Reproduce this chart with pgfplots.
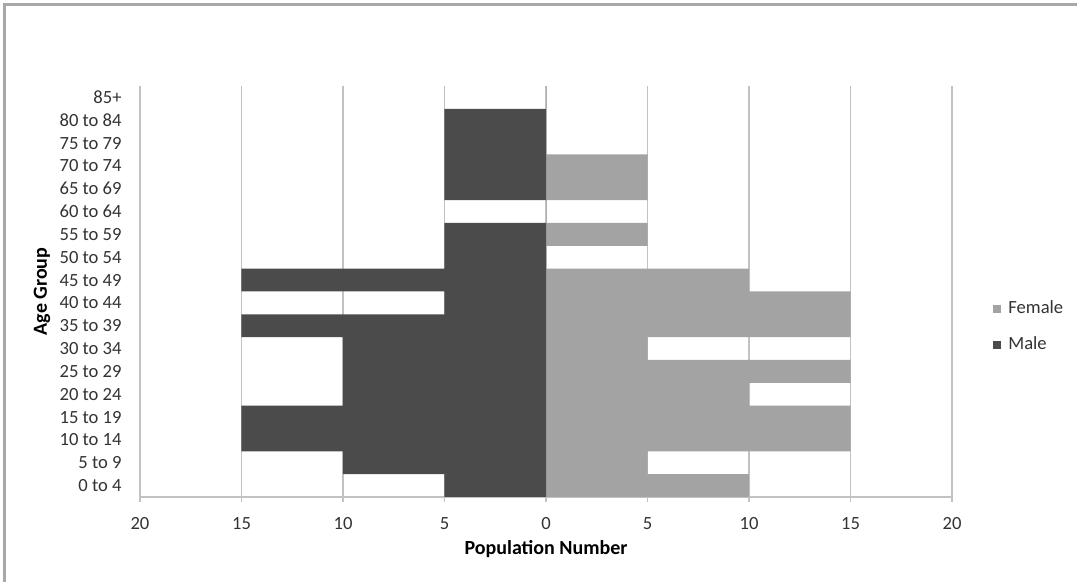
\documentclass[border=0pt]{standalone}
\usepackage{fontspec}
\setmainfont{Carlito}
\usepackage{pgfplots}
\pgfplotsset{compat=1.18}
\definecolor{male}{HTML}{4B4B4B}
\definecolor{female}{HTML}{A3A3A3}
\definecolor{gridc}{HTML}{C2C2C2}
\definecolor{txt}{HTML}{333333}
\definecolor{framec}{HTML}{A8A8A8}
\begin{document}
\begin{tikzpicture}
\useasboundingbox (-70pt,-42.5pt) rectangle (468.5pt,248.5pt);
\fill[white] (-70pt,-42.5pt) rectangle (468.5pt,248.5pt);
\draw[color=framec, line width=1.5pt] (-67.5pt,-42.5pt) -- (-67.5pt,246pt) -- (468.5pt,246pt);
\begin{axis}[
  at={(0pt,0pt)}, anchor=south west,
  scale only axis, width=406pt, height=205.5pt,
  xbar, bar width=1, bar shift=0pt,
  xmin=-20, xmax=20, ymin=-0.5, ymax=17.5,
  xtick={-20,-15,...,20},
  xticklabels={20,15,10,5,0,5,10,15,20},
  ytick={0,...,17},
  yticklabels={0 to 4,5 to 9,10 to 14,15 to 19,20 to 24,25 to 29,30 to 34,35 to 39,40 to 44,45 to 49,50 to 54,55 to 59,60 to 64,65 to 69,70 to 74,75 to 79,80 to 84,85+},
  axis x line*=bottom, axis y line*=left,
  x axis line style={draw=gridc, line width=0.8pt, -},
  y axis line style={draw=gridc, line width=0.6pt, -},
  xmajorgrids, major grid style={draw=gridc, line width=0.6pt},
  ytick style={draw=none},
  xtick style={draw=gridc, line width=0.6pt},
  tick align=outside, major tick length=2.5pt,
  /pgf/number format/assume math mode=true,
  tick label style={font=\fontsize{9.3}{11}\selectfont, text=txt},
  xticklabel style={anchor=center, yshift=-11pt},
  yticklabel style={inner xsep=0pt, xshift=-6.5pt},
  xlabel={\bfseries Population Number},
  ylabel={\bfseries Age Group},
  label style={font=\fontsize{9.3}{11}\selectfont, text=txt},
  every axis x label/.style={at={(axis description cs:0.5,-0.1265)}, anchor=center},
  every axis y label/.style={at={(axis description cs:-0.1207,0.5)}, anchor=center, rotate=90},
  legend style={at={(1.0505,0.414)}, anchor=west, draw=none, fill=none, inner sep=0pt,
    font=\fontsize{9.3}{11}\selectfont, text=txt, row sep=6pt, cells={anchor=west}},
  legend image code/.code={\fill[#1] (0pt,-2pt) rectangle (4pt,2pt); \path (5.5pt,0pt);},
]
\addplot[fill=female, draw=none] coordinates {
(10,0) (5,1) (15,2) (15,3) (10,4) (15,5) (5,6) (15,7) (15,8) (10,9)
(0,10) (5,11) (0,12) (5,13) (5,14) (0,15) (0,16) (0,17)};
\addlegendentry{Female}
\addplot[fill=male, draw=none] coordinates {
(-5,0) (-10,1) (-15,2) (-15,3) (-10,4) (-10,5) (-10,6) (-15,7) (-5,8) (-15,9)
(-5,10) (-5,11) (0,12) (-5,13) (-5,14) (-5,15) (-5,16) (0,17)};
\addlegendentry{Male}
\end{axis}
\end{tikzpicture}
\end{document}
